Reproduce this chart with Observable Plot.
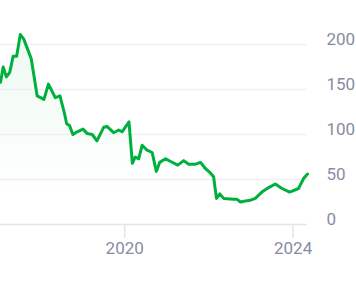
<!DOCTYPE html>
<html>
<head>
<meta charset="utf-8">
<script src="https://cdn.jsdelivr.net/npm/d3@7"></script>
<script src="https://cdn.jsdelivr.net/npm/@observablehq/plot@0.6"></script>
<style>
  html, body { margin: 0; padding: 0; background: #fff; }
  #chart { width: 356px; height: 287px; overflow: hidden; }
</style>
</head>
<body>
<div id="chart"></div>
<script>
const dates = [
  "2017-01-18","2017-02-10","2017-03-10","2017-04-08","2017-05-08","2017-06-07","2017-07-09","2017-08-08","2017-10-12","2017-12-02",
  "2018-01-30","2018-03-10","2018-05-08","2018-06-18","2018-07-28","2018-08-15","2018-09-09","2018-10-08","2018-11-14",
  "2019-01-04","2019-02-10","2019-03-25","2019-05-05","2019-07-02","2019-07-31","2019-09-27","2019-11-10","2019-12-09",
  "2020-02-07","2020-03-07","2020-04-01","2020-05-01","2020-05-31","2020-07-09","2020-08-26","2020-10-01","2020-10-30","2020-12-20",
  "2021-02-03","2021-04-05","2021-05-27","2021-07-09","2021-09-06","2021-10-20","2021-12-02",
  "2022-01-15","2022-02-10","2022-03-07","2022-04-05","2022-05-08","2022-08-04","2022-09-02","2022-10-01","2022-11-14","2022-12-28",
  "2023-02-07","2023-04-05","2023-06-03","2023-07-31","2023-09-27","2023-12-02",
  "2024-02-17","2024-04-01","2024-05-05"
];
const prices = [
  158,175,164,169,187,187,211,206,184,143,
  139,156,141,143,123,112,110,100,103,
  106,101,100,93,108,109,102,105,103,
  114,68,75,73,88,83,80,59,69,73,
  70,66,71,67,67,69,62,
  57,53,29,34,29,28,28,25,26,27,
  29,36,41,45,40,36,
  40,51,56
];
const yTicks = [0, 50, 100, 150, 200];
const xTicks = ["2020-01-01", "2024-01-01"];

const data = dates.map((d, i) => ({date: new Date(d), price: prices[i]}));
const green = "#00b03f";

const chart = Plot.plot({
  width: 356,
  height: 287,
  marginLeft: 0,
  marginRight: 49,
  marginTop: 17,
  marginBottom: 63,
  style: {fontFamily: "Roboto, sans-serif", background: "#fff"},
  x: {type: "utc"},
  y: {domain: [0, 230]},
  marks: [
    Plot.areaY(data, {x: "date", y: "price", fill: "url(#areaGrad)", curve: "linear"}),
    Plot.ruleY(yTicks.filter(d => d > 0), {stroke: "#f0f0f4", strokeWidth: 1.5}),
    Plot.ruleY([0], {stroke: "#e4e4ec", strokeWidth: 1.5}),
    Plot.axisY({
      anchor: "right", ticks: yTicks, tickSize: 0, tickPadding: 19,
      textAnchor: "start", lineAnchor: "bottom", fontSize: 17,
      fill: "#878ca2", label: null
    }),
    Plot.axisX({
      ticks: xTicks.map(d => new Date(d)), tickSize: 14, tickPadding: 3,
      tickFormat: "%Y", fontSize: 17, stroke: "#e4e4ec", strokeWidth: 1.5,
      fill: "#878ca2", label: null
    }),
    Plot.lineY(data, {x: "date", y: "price", stroke: green, strokeWidth: 3, strokeLinejoin: "round"})
  ]
});

const ns = "http://www.w3.org/2000/svg";
const defs = document.createElementNS(ns, "defs");
defs.innerHTML = `<linearGradient id="areaGrad" gradientUnits="userSpaceOnUse" x1="0" y1="30" x2="0" y2="195">
  <stop offset="0" stop-color="#00b03f" stop-opacity="0.07"/>
  <stop offset="1" stop-color="#00b03f" stop-opacity="0"/>
</linearGradient>`;
chart.insertBefore(defs, chart.firstChild);
document.getElementById("chart").appendChild(chart);
</script>
</body>
</html>
